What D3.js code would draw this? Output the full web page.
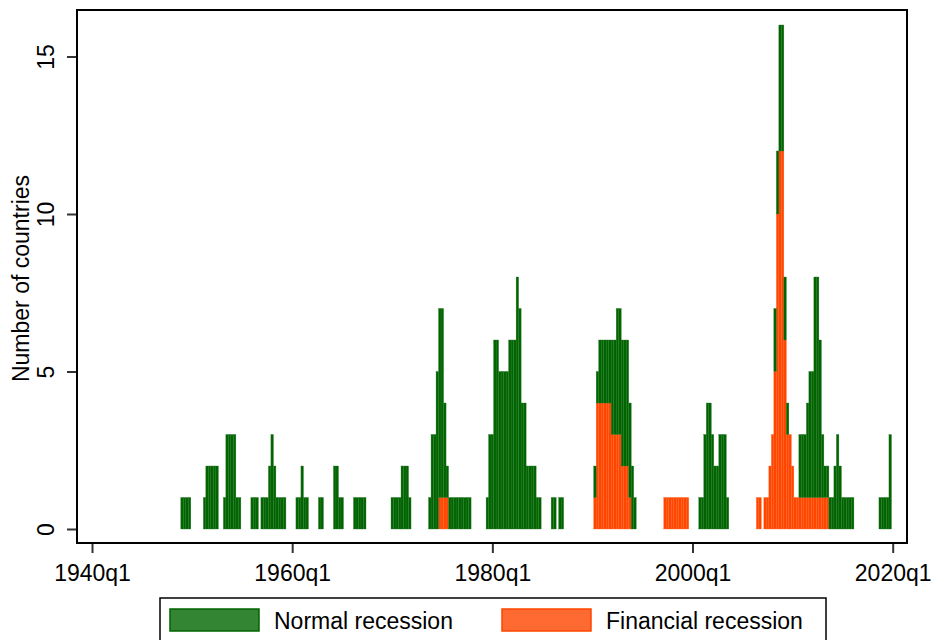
<!DOCTYPE html>
<html>
<head>
<meta charset="utf-8">
<script src="https://cdn.jsdelivr.net/npm/d3@7/dist/d3.min.js"></script>
<style>
  body { margin: 0; background: #fff; }
  svg { display: block; font-family: "Liberation Sans", Arial, Helvetica, sans-serif; }
</style>
</head>
<body>
<div id="chart"></div>
<script>
var w = 932,
    h = 640;

// quarterly counts, 1949q1 .. 2019q4, four values per row (q1..q4)
var firstYear = 1949;

var normal = [
    1,1,1,1,  0,0,0,0,  0,1,2,2,  2,2,2,0,  0,1,3,3,   // 1949-1953
    3,3,1,1,  0,0,0,0,  1,1,1,0,  1,1,1,2,  3,2,1,1,   // 1954-1958
    1,1,0,0,  0,0,1,1,  2,1,1,0,  0,0,0,1,  1,0,0,0,   // 1959-1963
    0,2,2,1,  1,0,0,0,  0,1,1,1,  1,1,0,0,  0,0,0,0,   // 1964-1968
    0,0,0,0,  1,1,1,1,  2,2,2,1,  0,0,0,0,  0,0,0,1,   // 1969-1973
    3,3,5,6,  6,3,1,1,  1,1,1,1,  1,1,1,1,  0,0,0,0,   // 1974-1978
    0,0,1,3,  3,6,6,5,  5,5,5,6,  6,6,8,7,  4,4,2,2,   // 1979-1983
    2,2,1,1,  0,0,0,0,  1,1,0,1,  1,0,0,0,  0,0,0,0,   // 1984-1988
    0,0,0,0,  0,1,1,2,  2,2,2,2,  3,3,4,4,  4,4,4,3,   // 1989-1993
    2,1,0,0,  0,0,0,0,  0,0,0,0,  0,0,0,0,  0,0,0,0,   // 1994-1998
    0,0,0,0,  0,0,0,1,  1,3,4,4,  3,2,2,3,  3,3,1,0,   // 1999-2003
    0,0,0,0,  0,0,0,0,  0,0,0,0,  0,0,0,0,  0,2,2,4,   // 2004-2008
    4,2,1,0,  0,0,0,2,  2,2,3,4,  4,7,7,5,  2,1,1,1,   // 2009-2013
    1,2,3,2,  1,1,1,1,  1,0,0,0,  0,0,0,0,  0,0,0,1,   // 2014-2018
    1,1,1,3                                            // 2019
];

var financial = [
    0,0,0,0,  0,0,0,0,  0,0,0,0,  0,0,0,0,  0,0,0,0,   // 1949-1953
    0,0,0,0,  0,0,0,0,  0,0,0,0,  0,0,0,0,  0,0,0,0,   // 1954-1958
    0,0,0,0,  0,0,0,0,  0,0,0,0,  0,0,0,0,  0,0,0,0,   // 1959-1963
    0,0,0,0,  0,0,0,0,  0,0,0,0,  0,0,0,0,  0,0,0,0,   // 1964-1968
    0,0,0,0,  0,0,0,0,  0,0,0,0,  0,0,0,0,  0,0,0,0,   // 1969-1973
    0,0,0,1,  1,1,1,0,  0,0,0,0,  0,0,0,0,  0,0,0,0,   // 1974-1978
    0,0,0,0,  0,0,0,0,  0,0,0,0,  0,0,0,0,  0,0,0,0,   // 1979-1983
    0,0,0,0,  0,0,0,0,  0,0,0,0,  0,0,0,0,  0,0,0,0,   // 1984-1988
    0,0,0,0,  0,1,4,4,  4,4,4,4,  3,3,3,3,  2,2,2,1,   // 1989-1993
    0,0,0,0,  0,0,0,0,  0,0,0,0,  0,1,1,1,  1,1,1,1,   // 1994-1998
    1,1,1,0,  0,0,0,0,  0,0,0,0,  0,0,0,0,  0,0,0,0,   // 1999-2003
    0,0,0,0,  0,0,0,0,  0,0,1,1,  0,1,1,2,  3,5,10,12, // 2004-2008
    12,6,3,3, 2,1,1,1,  1,1,1,1,  1,1,1,1,  1,1,1,0,   // 2009-2013
    0,0,0,0,  0,0,0,0,  0,0,0,0,  0,0,0,0,  0,0,0,0,   // 2014-2018
    0,0,0,0                                            // 2019
];

var xTicks = [1940, 1960, 1980, 2000, 2020];
var yTicks = [0, 5, 10, 15];
var seriesNames = ["Normal recession", "Financial recession"];

var data = normal.map(function (v, i) {
    return {
        t: firstYear + i / 4,
        normal: v,
        financial: financial[i]
    };
});

var frame = {left: 77, right: 907, top: 10, bottom: 543};
var fontSize = "23px";

var x = d3.scaleLinear()
    .domain([1940, 2020])
    .range([92, 892.7]);

var y = d3.scaleLinear()
    .domain([0, 15])
    .range([529, 56.5]);

var svg = d3.select("#chart").append("svg")
    .attr("width", w)
    .attr("height", h);

var stack = d3.stack().keys(["financial", "normal"]);
var layers = stack(data);
var colors = {financial: "#ff4500", normal: "#006400"};
var edge = {financial: "#ff6a2a", normal: "#2a7a2a"};
var bw = x(1940.25) - x(1940);

svg.selectAll("g.layer")
    .data(layers)
    .enter()
    .append("g")
    .attr("class", "layer")
    .attr("fill", function (d) { return colors[d.key]; })
    .attr("stroke", function (d) { return edge[d.key]; })
    .attr("stroke-width", 0.35)
    .selectAll("rect")
    .data(function (d) {
        return d.filter(function (p) { return p[1] > p[0]; });
    })
    .enter()
    .append("rect")
    .attr("x", function (d) { return x(d.data.t) - bw / 2; })
    .attr("width", bw)
    .attr("y", function (d) { return y(d[1]); })
    .attr("height", function (d) { return y(d[0]) - y(d[1]); });

// plot frame
svg.append("rect")
    .attr("x", frame.left)
    .attr("y", frame.top)
    .attr("width", frame.right - frame.left)
    .attr("height", frame.bottom - frame.top)
    .attr("fill", "none")
    .attr("stroke", "#000")
    .attr("stroke-width", 2);

// x axis
var xAxis = svg.append("g")
    .attr("transform", "translate(0," + (frame.bottom + 1) + ")")
    .call(d3.axisBottom(x)
        .tickValues(xTicks)
        .tickSize(9)
        .tickPadding(12)
        .tickFormat(function (d) { return d + "q1"; }));
xAxis.select(".domain").remove();
xAxis.selectAll(".tick line").attr("stroke", "#333").attr("stroke-width", 2);
xAxis.selectAll(".tick text")
    .attr("fill", "#000")
    .style("font-size", fontSize);

// y axis
var yAxis = svg.append("g")
    .attr("transform", "translate(" + (frame.left - 1) + ",0)")
    .call(d3.axisLeft(y)
        .tickValues(yTicks)
        .tickSize(9));
yAxis.select(".domain").remove();
yAxis.selectAll(".tick line").attr("stroke", "#333").attr("stroke-width", 2);
yAxis.selectAll(".tick text")
    .attr("fill", "#000")
    .attr("x", null)
    .attr("dy", null)
    .attr("text-anchor", "middle")
    .attr("transform", "translate(-22,0) rotate(-90)")
    .style("font-size", fontSize);

svg.append("text")
    .attr("transform", "translate(29," + ((frame.top + frame.bottom) / 2 + 2) + ") rotate(-90)")
    .attr("text-anchor", "middle")
    .style("font-size", fontSize)
    .text("Number of countries");

// legend
var legend = svg.append("g");
legend.append("rect")
    .attr("x", 160)
    .attr("y", 598)
    .attr("width", 666)
    .attr("height", 60)
    .attr("fill", "#fff")
    .attr("stroke", "#000")
    .attr("stroke-width", 1.5);

var legendFill = {"Normal recession": "#338533", "Financial recession": "#ff6a33"};
var legendLine = {"Normal recession": "#006400", "Financial recession": "#ff4500"};
var legendX = d3.scaleOrdinal().domain(seriesNames).range([170, 502]);

var item = legend.selectAll("g.item")
    .data(seriesNames)
    .enter()
    .append("g")
    .attr("class", "item")
    .attr("transform", function (d) { return "translate(" + legendX(d) + ",609)"; });

item.append("rect")
    .attr("width", 89)
    .attr("height", 22)
    .attr("fill", function (d) { return legendFill[d]; })
    .attr("stroke", function (d) { return legendLine[d]; })
    .attr("stroke-width", 1.5);

item.append("text")
    .attr("x", 104)
    .attr("y", 20)
    .style("font-size", fontSize)
    .text(function (d) { return d; });
</script>
</body>
</html>
